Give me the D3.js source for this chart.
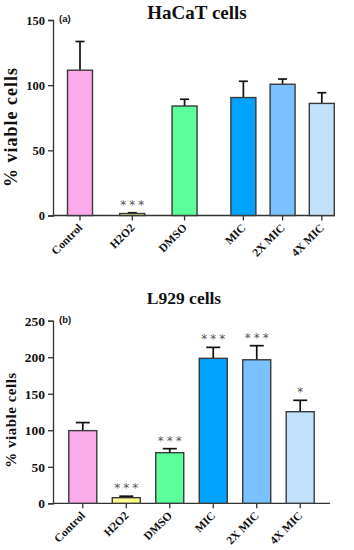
<!DOCTYPE html>
<html>
<head>
<meta charset="utf-8">
<script src="https://cdn.jsdelivr.net/npm/d3@7"></script>
<style>
	body { margin: 0; background: #fff; }
	svg { display: block; }
	.tick text { font-family: "Liberation Serif", "Times New Roman", serif; font-weight: bold; }
</style>
</head>
<body>
<div id="chart"></div>
<script>
// groups shared by both panels
var groups = ["Control", "H2O2", "DMSO", "MIC", "2X MIC", "4X MIC"];
var colors = ["#fbaaea", "#fffd8c", "#5bff9c", "#00a3fe", "#7bc0ff", "#c2e2fb"];

// (a) HaCaT cells
var hacatMean = [111.5, 1.5, 84, 90.5, 100.7, 86];
var hacatErr  = [22, 0.6, 5.2, 12.5, 4, 8.2];
var hacatSig  = ["", "***", "", "", "", ""];
var hacatTicks = [0, 50, 100, 150];

// (b) L929 cells
var l929Mean = [99.5, 7.7, 69.3, 198.5, 196.5, 125.4];
var l929Err  = [11, 2, 5.5, 15, 19.3, 15.6];
var l929Sig  = ["", "***", "***", "***", "***", "*"];
var l929Ticks = [0, 50, 100, 150, 200, 250];

var svg = d3.select("#chart").append("svg")
	.attr("width", 354)
	.attr("height", 550);

function panel(o)	{

	var g = svg.append("g");

	var y = d3.scaleLinear([0, o.max], [o.y0, o.y1]);

	// y axis
	g.append("g")
		.attr("transform", `translate(${o.xl},0)`)
		.call(d3.axisLeft(y).tickValues(o.ticks).tickSize(5).tickPadding(3))
		.call(a => {
			a.select(".domain").attr("stroke", "#333").attr("stroke-width", 1.3);
			a.selectAll(".tick line").attr("stroke", "#333").attr("stroke-width", 1.3);
			a.selectAll(".tick text").attr("font-size", o.tfs).attr("fill", "#111");
		});

	// x axis line
	g.append("line")
		.attr("x1", o.xl).attr("x2", o.xr)
		.attr("y1", o.y0).attr("y2", o.y0)
		.attr("stroke", "#333").attr("stroke-width", 1.3);

	var x = o.x;

	// x ticks & labels
	var xt = g.selectAll(".xt").data(groups).join("g")
		.attr("class", "xt")
		.attr("transform", d => `translate(${x(d)},${o.y0})`);
	xt.append("line").attr("y2", 5).attr("stroke", "#333").attr("stroke-width", 1.3);
	xt.append("text")
		.attr("transform", "translate(3,13) rotate(-45)")
		.attr("text-anchor", "end")
		.attr("font-family", '"Liberation Serif", serif')
		.attr("font-weight", "bold")
		.attr("font-size", 11.5)
		.attr("fill", "#111")
		.text(d => d);

	var data = groups.map((d, i) => ({ name: d, mean: o.mean[i], err: o.err[i], sig: o.sig[i], color: colors[i] }));

	// error bars
	var eb = g.selectAll(".err").data(data).join("g").attr("class", "err");
	eb.append("line")
		.attr("x1", d => x(d.name)).attr("x2", d => x(d.name))
		.attr("y1", d => y(d.mean)).attr("y2", d => y(d.mean + d.err))
		.attr("stroke", "#111").attr("stroke-width", 1.7);
	eb.append("line")
		.attr("x1", d => x(d.name) - o.cap).attr("x2", d => x(d.name) + o.cap)
		.attr("y1", d => y(d.mean + d.err)).attr("y2", d => y(d.mean + d.err))
		.attr("stroke", "#111").attr("stroke-width", 1.7);

	// bars
	g.selectAll(".bar").data(data).join("rect")
		.attr("class", "bar")
		.attr("x", d => x(d.name) - o.bw / 2)
		.attr("width", o.bw)
		.attr("y", d => y(d.mean))
		.attr("height", d => o.y0 - y(d.mean))
		.attr("fill", d => d.color)
		.attr("stroke", "#3a3a3a")
		.attr("stroke-width", 1.4);

	// significance
	g.selectAll(".sig").data(data.filter(d => d.sig)).join("text")
		.attr("class", "sig")
		.attr("x", d => x(d.name) + 1.5)
		.attr("y", d => y(d.mean + d.err) - 4)
		.attr("text-anchor", "middle")
		.attr("font-family", '"DejaVu Sans", sans-serif')
		.attr("font-size", 12)
		.attr("letter-spacing", 3)
		.attr("fill", "#555")
		.text(d => d.sig);

	// title
	g.append("text")
		.attr("x", o.tx).attr("y", o.ty)
		.attr("text-anchor", "middle")
		.attr("font-family", '"Liberation Serif", serif')
		.attr("font-weight", "bold")
		.attr("font-size", o.titfs)
		.attr("fill", "#111")
		.text(o.title);

	// panel letter
	g.append("text")
		.attr("x", o.xl + 6).attr("y", o.y1 + 2)
		.attr("font-family", '"Liberation Sans", sans-serif')
		.attr("font-weight", "bold")
		.attr("font-size", 9.5)
		.attr("fill", "#111")
		.text(o.letter);

	// y label
	g.append("text")
		.attr("transform", `translate(${o.lx},${o.ly}) rotate(-90)`)
		.attr("text-anchor", "middle")
		.attr("font-family", '"Liberation Serif", serif')
		.attr("font-weight", "bold")
		.attr("font-size", o.lfs)
		.attr("letter-spacing", o.lls)
		.attr("fill", "#111")
		.text("% viable cells");
}

// top panel: two clusters of bars
var topSlots = [0, 4, 8, 12.5, 15.5, 18.5];
var xTopLin = d3.scaleLinear([0, 18.5], [80, 321.8]);
var xTop = d => xTopLin(topSlots[groups.indexOf(d)]);

panel({
	title: "HaCaT cells", letter: "(a)",
	mean: hacatMean, err: hacatErr, sig: hacatSig, ticks: hacatTicks, max: 150,
	x: xTop, bw: 25, cap: 4.5,
	xl: 53, xr: 335, y0: 215.5, y1: 20,
	tx: 197, ty: 19, titfs: 19, tfs: 12.5,
	lx: 17, ly: 127, lfs: 18, lls: 1
});

var xBot = d3.scaleBand(groups, [53, 330]).paddingInner(0.35).paddingOuter(0.36);

panel({
	title: "L929 cells", letter: "(b)",
	mean: l929Mean, err: l929Err, sig: l929Sig, ticks: l929Ticks, max: 250,
	x: d => xBot(d) + xBot.bandwidth() / 2, bw: 28, cap: 7,
	xl: 53, xr: 330, y0: 503.3, y1: 320.7,
	tx: 184, ty: 304, titfs: 17.5, tfs: 13.5,
	lx: 16, ly: 420, lfs: 15, lls: 0.5
});
</script>
</body>
</html>
